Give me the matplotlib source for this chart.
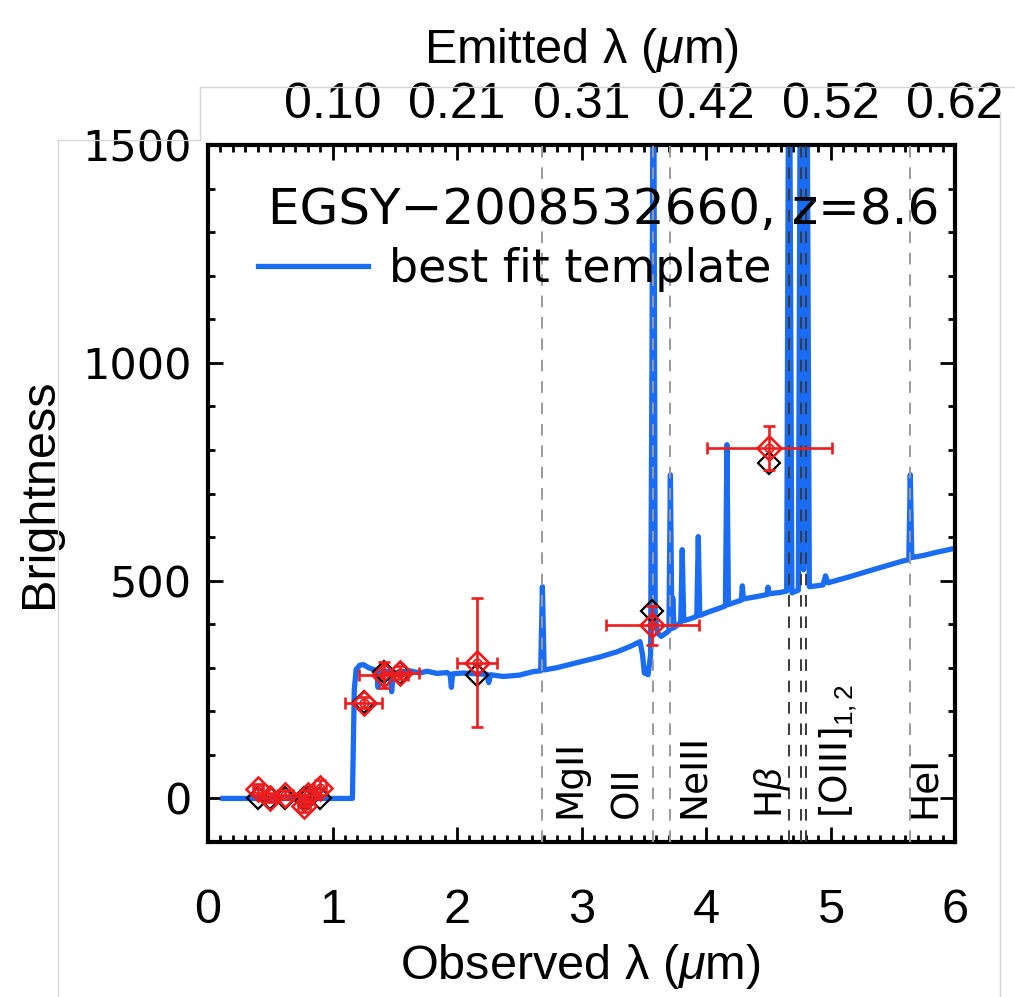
#!/usr/bin/env python3
"""SED of EGSY-2008532660 (z=8.6): best-fit template, photometry and line markers."""
import matplotlib
matplotlib.use("Agg")
import matplotlib.pyplot as plt
from matplotlib.lines import Line2D
from matplotlib.ticker import MultipleLocator

plt.rcParams["font.family"] = ["Liberation Sans", "DejaVu Sans"]
plt.rcParams["mathtext.fontset"] = "custom"
plt.rcParams["mathtext.rm"] = "Liberation Sans"
plt.rcParams["mathtext.it"] = "Liberation Sans:italic"

REDSHIFT = 8.6

# best-fit template, observed wavelength (um) vs brightness
spec_wave = [0.12, 1.16, 1.175, 1.19, 1.22, 1.25, 1.29, 1.33, 1.355, 1.365, 1.38,
             1.42, 1.46, 1.475, 1.49, 1.55, 1.62, 1.70, 1.76, 1.84, 1.92, 1.945,
             1.955, 1.965, 2.05, 2.16, 2.24, 2.255, 2.27, 2.37, 2.50, 2.61, 2.672,
             2.686, 2.700, 2.80, 3.01, 3.15, 3.29, 3.40, 3.47, 3.49, 3.505, 3.535,
             3.555, 3.566, 3.578, 3.592, 3.61, 3.64, 3.68, 3.702, 3.714, 3.726,
             3.733, 3.743, 3.78, 3.797, 3.809, 3.821, 3.87, 3.926, 3.938, 3.950,
             4.02, 4.10, 4.156, 4.168, 4.180, 4.25, 4.283, 4.292, 4.30, 4.40, 4.49,
             4.498, 4.507, 4.60, 4.648, 4.667, 4.69, 4.742, 4.761, 4.784, 4.807,
             4.83, 4.94, 4.96, 4.98, 5.13, 5.40, 5.58, 5.629, 5.641, 5.653, 5.75,
             5.85, 5.98, 6.05]
spec_flux = [0, 0, 250, 296, 306, 307, 300, 296, 292, 255, 290,
             293, 290, 245, 288, 290, 293, 288, 292, 287, 289, 284,
             255, 286, 288, 286, 285, 266, 284, 280, 283, 291, 293,
             486, 295, 300, 315, 325, 337, 350, 360, 330, 288, 284,
             330, 1000, 2000, 420, 380, 372, 380, 385, 743, 390,
             460, 392, 400, 405, 571, 408, 412, 418, 601, 420,
             428, 436, 442, 812, 445, 452, 455, 488, 458, 463, 468,
             485, 470, 473, 476, 2000, 472, 478, 2000, 525, 2000,
             486, 490, 511, 495, 507, 530, 545, 548, 743, 553, 558,
             565, 573, 575]

# measured photometry (red) and template photometry (black)
phot_wave = [0.40, 0.50, 0.62, 0.77, 0.80, 0.90, 1.25, 1.41, 1.545, 2.16, 3.57, 4.51]
phot_wave_err = [0.04, 0.05, 0.06, 0.05, 0.06, 0.05, 0.15, 0.20, 0.15, 0.16, 0.375, 0.505]
phot_flux = [21, 2, 9, -18, 9, 25, 220, 284, 289, 312, 397, 805]
phot_flux_err = [12, 10, 10, 12, 10, 18, 12, 30, 15, 148, 44, 50]
model_flux = [0, 0, 0, 0, 0, 0, 222, 291, 289, 284, 431, 771]

# rest-frame line wavelengths (um)
line_rest = {"MgII": 0.2798, "OII": 0.3727, "NeIII": 0.3869, "Hb": 0.4861,
             "OIII1": 0.4959, "OIII2": 0.5007, "HeI": 0.5876}
line_labels = ["MgII", "OII", "NeIII", r"H$\beta$", r"[OIII]$_{1,2}$", "HeI"]
label_x = [2.91, 3.37, 3.90, 4.53, 5.06, 5.76]

emit_ticks = [1, 2, 3, 4, 5, 6]
emit_labels = ["0.10", "0.21", "0.31", "0.42", "0.52", "0.62"]

BLUE = "#1a6cf5"
RED = "#ee1c1c"

fig = plt.figure(figsize=(10.15, 9.97), dpi=100)
ax = fig.add_axes([208 / 1015, 1 - 842 / 997, 747 / 1015, 697 / 997])

# emission-line markers
for name, lam in line_rest.items():
    dark = name in ("Hb", "OIII1", "OIII2")
    ax.axvline(lam * (1 + REDSHIFT), color="#3a3a3a" if dark else "#9a9a9a",
               lw=1.4, ls=(0, (6, 5)), zorder=3)

ax.plot(spec_wave, spec_flux, color=BLUE, lw=3.8, zorder=2,
        solid_joinstyle="round", label="best fit template")

ax.plot(phot_wave, model_flux, ls="none", marker="D", ms=11, mfc="none",
        mec="black", mew=1.6, zorder=4)
ax.errorbar(phot_wave, phot_flux, xerr=phot_wave_err, yerr=phot_flux_err,
            fmt="none", ecolor=RED, elinewidth=1.9, capsize=4.5, capthick=1.9, zorder=5)
ax.plot(phot_wave, phot_flux, ls="none", marker="D", ms=12, mfc="none",
        mec=RED, mew=1.9, zorder=6)
ax.plot(phot_wave, phot_flux, ls="none", marker="o", ms=6, mfc="none",
        mec=RED, mew=1.3, zorder=6)

for txt, x in zip(line_labels, label_x):
    ax.text(x, -45, txt, rotation=90, ha="center", va="bottom", fontsize=27,
            family="DejaVu Sans", zorder=7)

ax.text(0.53, 0.907, "EGSY\u22122008532660, z=8.6", transform=ax.transAxes,
        ha="center", va="center", fontsize=36, family="DejaVu Sans")
ax.legend(loc="center left", bbox_to_anchor=(0.067, 0.821), frameon=False,
          borderpad=0, borderaxespad=0, handlelength=2.4, handletextpad=0.45,
          prop={"family": "DejaVu Sans", "size": 33})

ax.set_xlim(0, 6)
ax.set_ylim(-100, 1500)
ax.xaxis.set_major_locator(MultipleLocator(1))
ax.xaxis.set_minor_locator(MultipleLocator(0.1))
ax.yaxis.set_major_locator(MultipleLocator(500))
ax.yaxis.set_minor_locator(MultipleLocator(100))
ax.tick_params(which="both", direction="in", top=True, right=True, width=2, color="black")
ax.tick_params(which="major", length=11)
ax.tick_params(which="minor", length=5)
ax.tick_params(axis="x", which="major", pad=33, labelsize=35)
ax.tick_params(axis="y", which="major", pad=12, labelsize=31)
for lab in ax.get_yticklabels():
    lab.set_family("DejaVu Sans")
for sp in ax.spines.values():
    sp.set_linewidth(3)

ax.set_xlabel("Observed \u03bb ($\\mathit{\\mu}$m)", fontsize=35)
ax.xaxis.label.set_va("center")
ax.xaxis.set_label_coords(0.498, -0.179)
ax.set_ylabel("Brightness", fontsize=35)
ax.yaxis.label.set_rotation_mode("default")
ax.yaxis.label.set_va("center")
ax.yaxis.set_label_coords(-0.225, 0.50)

# emitted-frame wavelength scale along the top
top = ax.secondary_xaxis("top")
top.set_xticks(emit_ticks, emit_labels)
top.tick_params(length=0, pad=12, labelsize=36)
top.spines["top"].set_visible(False)
top.set_xlabel("Emitted \u03bb ($\\mathit{\\mu}$m)", fontsize=35, labelpad=14)

# thin panel outlines
grey = "#d6d6d6"
for xs, ys in [((200, 1015), (87, 87)), ((200, 200), (87, 140)),
               ((58, 200), (140, 140)), ((58, 58), (140, 997)),
               ((1000, 1000), (112, 997))]:
    fig.add_artist(Line2D([x / 1015 for x in xs], [1 - y / 997 for y in ys],
                          transform=fig.transFigure, color=grey, lw=1))

fig.savefig("out.png", dpi=100)
